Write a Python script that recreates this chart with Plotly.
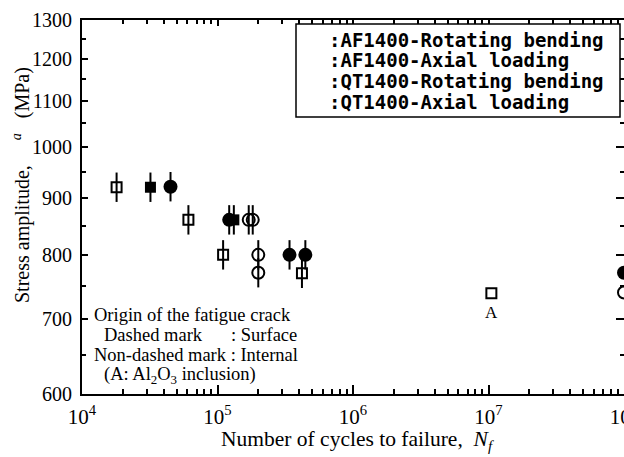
import math
import plotly.graph_objects as go

# ---------------- data ----------------
series_names = ["AF1400-Rotating bending", "AF1400-Axial loading",
                "QT1400-Rotating bending", "QT1400-Axial loading"]

# AF1400 rotating bending (open circles)
af_rb_N = [1.70e5, 1.82e5, 2.0e5, 2.0e5, 1.0e8]
af_rb_S = [860, 860, 800, 771, 740]
af_rb_origin = ["S", "S", "S", "S", "N"]   # S: surface, I: internal, N: no failure

# AF1400 axial loading (open squares)
af_ax_N = [1.8e4, 6.1e4, 1.1e5, 4.2e5, 1.05e7]
af_ax_S = [920, 860, 800, 770, 739]
af_ax_origin = ["S", "S", "S", "S", "I"]

# QT1400 rotating bending (filled circles)
qt_rb_N = [4.5e4, 1.22e5, 3.4e5, 4.45e5, 1.0e8]
qt_rb_S = [921, 860, 800, 800, 771]
qt_rb_origin = ["S", "S", "S", "S", "N"]

# QT1400 axial loading (filled squares)
qt_ax_N = [3.2e4, 1.32e5]
qt_ax_S = [920, 860]
qt_ax_origin = ["S", "S"]

y_ticks = [600, 700, 800, 900, 1000, 1100, 1200, 1300]
y_minor = [650, 750, 850, 950, 1050, 1150, 1250]
x_ticks = [1e4, 1e5, 1e6, 1e7, 1e8]
x_tick_text = ["10<sup>4</sup>", "10<sup>5</sup>", "10<sup>6</sup>", "10<sup>7</sup>", "10<sup>8</sup>"]
x_minor = [k * 10 ** d for d in range(4, 8) for k in range(2, 10)]

# ---------------- layout geometry ----------------
W, H = 624, 457
L, R, T, B = 82, 624, 20, 394   # plot area in pixels
x_range = [4, 8]
y_range = [math.log10(600), math.log10(1300)]

def px(x):   # pixel -> paper x
    return (x - L) / (R - L)

def py(y):   # pixel -> paper y
    return (B - y) / (B - T)

SERIF = "Liberation Serif, Times New Roman, serif"
MONO = "DejaVu Sans Mono, monospace"

fig = go.Figure()

styles = [
    (af_rb_N, af_rb_S, af_rb_origin, dict(symbol="circle-open", size=12, color="black", line=dict(width=2, color="black"))),
    (af_ax_N, af_ax_S, af_ax_origin, dict(symbol="square-open", size=10, color="black", line=dict(width=2, color="black"))),
    (qt_rb_N, qt_rb_S, qt_rb_origin, dict(symbol="circle", size=14, color="black", line=dict(width=0))),
    (qt_ax_N, qt_ax_S, qt_ax_origin, dict(symbol="square", size=11, color="black", line=dict(width=0))),
]

dash_x, dash_y = [], []
for name, (xs, ys, org, mk) in zip(series_names, styles):
    fig.add_trace(go.Scatter(x=xs, y=ys, mode="markers", name=name, marker=mk,
                             cliponaxis=False, showlegend=False))
    for xv, yv, o in zip(xs, ys, org):
        if o == "S":
            dash_x.append(xv)
            dash_y.append(yv)

# vertical dash through markers: surface-origin failures
fig.add_trace(go.Scatter(x=dash_x, y=dash_y, mode="markers", showlegend=False,
                         marker=dict(symbol="line-ns", size=21, color="black",
                                     line=dict(width=2, color="black")),
                         cliponaxis=False))

# dummy trace for mirror axes
fig.add_trace(go.Scatter(x=[None], y=[None], xaxis="x2", yaxis="y2", showlegend=False))

common_x = dict(type="log", range=x_range, ticks="inside", showgrid=False, zeroline=False,
                tickcolor="black", tickwidth=1.5, automargin=False)
common_y = dict(type="log", range=y_range, ticks="inside", showgrid=False, zeroline=False,
                tickcolor="black", tickwidth=1.5, automargin=False)

fig.update_layout(
    template="none",
    width=W, height=H,
    margin=dict(l=L, r=W - R, t=T, b=H - B, pad=0, autoexpand=False),
    paper_bgcolor="white", plot_bgcolor="white",
    showlegend=False,
    xaxis=dict(**common_x, tickmode="array", tickvals=x_ticks, ticktext=x_tick_text, ticklen=9,
               showline=True, linecolor="black", linewidth=2,
               tickfont=dict(family=SERIF, size=21, color="black"),
               ticklabelstandoff=3, ticklabeloverflow="allow",
               minor=dict(tickmode="array", tickvals=x_minor, ticks="inside", ticklen=5,
                          tickcolor="black", tickwidth=1.5)),
    xaxis2=dict(**common_x, overlaying="x", anchor="y", side="top", tickmode="array",
                tickvals=x_ticks, ticklen=6, showticklabels=False,
                showline=True, linecolor="black", linewidth=2,
                minor=dict(tickmode="array", tickvals=x_minor, ticks="inside", ticklen=4,
                           tickcolor="black", tickwidth=1.5)),
    yaxis=dict(**common_y, tickmode="array", tickvals=y_ticks, ticklen=6,
               showline=True, linecolor="black", linewidth=2,
               tickfont=dict(family=SERIF, size=20, color="black"),
               ticklabelstandoff=4,
               minor=dict(tickmode="array", tickvals=y_minor, ticks="inside", ticklen=4,
                          tickcolor="black", tickwidth=1.5)),
    yaxis2=dict(**common_y, overlaying="y", anchor="x", side="right", tickmode="array",
                tickvals=y_ticks, ticklen=8, showticklabels=False, showline=False,
                minor=dict(tickmode="array", tickvals=y_minor, ticks="inside", ticklen=4,
                           tickcolor="black", tickwidth=1.5)),
)

# legend box (markers lost in the original; text only)
fig.add_shape(type="rect", xref="paper", yref="paper",
              x0=px(296), x1=px(620), y0=py(117), y1=py(24),
              fillcolor="white", line=dict(color="black", width=1.5), layer="above")
for i, name in enumerate(series_names):
    fig.add_annotation(xref="paper", yref="paper", x=px(327), y=py(40 + 20.5 * i),
                       xanchor="left", yanchor="middle", showarrow=False,
                       text="<b>:" + name + "</b>",
                       font=dict(family=MONO, size=19, color="black"))

# note text
notes = [
    (92, 315, "Origin of the fatigue crack"),
    (102, 335, "Dashed mark"),
    (229, 335, ": Surface"),
    (92, 355, "Non-dashed mark : Internal"),
    (102, 375, "(A: Al<sub>2</sub>O<sub>3</sub> inclusion)"),
]
for x0, y0, t in notes:
    fig.add_annotation(xref="paper", yref="paper", x=px(x0), y=py(y0),
                       xanchor="left", yanchor="middle", showarrow=False, text=t,
                       font=dict(family=SERIF, size=18.5, color="black"))

# label "A" under the Al2O3 inclusion point
fig.add_annotation(xref="x", yref="y", x=math.log10(af_ax_N[-1]), y=math.log10(af_ax_S[-1]),
                   yshift=-19, showarrow=False, text="A",
                   font=dict(family=SERIF, size=17, color="black"))

# axis titles
fig.add_annotation(xref="paper", yref="paper", x=px(357), y=py(440),
                   xanchor="center", yanchor="middle", showarrow=False,
                   text="Number of cycles to failure,  <i>N<sub>f</sub></i>",
                   font=dict(family=SERIF, size=21.5, color="black"))
fig.add_annotation(xref="paper", yref="paper", x=px(21), y=py(185),
                   xanchor="center", yanchor="middle", showarrow=False, textangle=-90,
                   text="Stress amplitude,     <sup><i>a</i></sup>   (MPa)",
                   font=dict(family=SERIF, size=20, color="black"))

# remove the default 8px page margin so the 624x457 figure fills the window exactly
fig.write_html("out.html",
               config={"displayModeBar": False},
               post_script="document.body.style.margin='0px';document.body.style.overflow='hidden';")
